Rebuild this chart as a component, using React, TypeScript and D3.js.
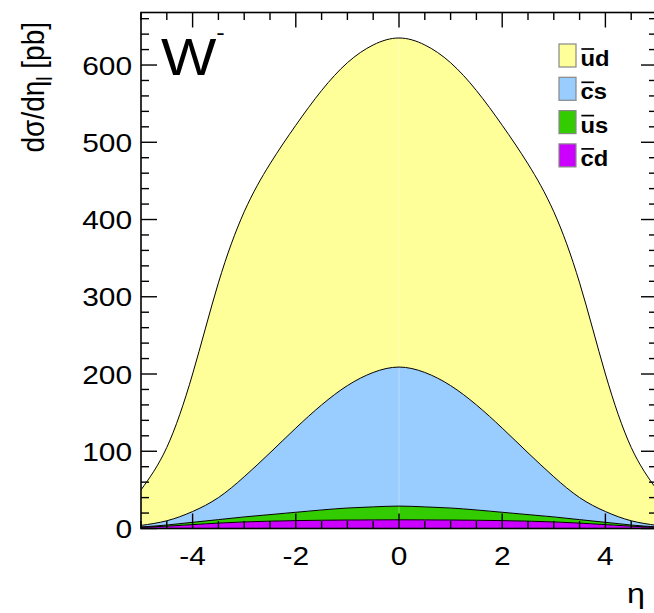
import React from "react";
import * as d3 from "d3";

const eta = [-5, -4.5, -4, -3.5, -3, -2.5, -2, -1.5, -1, -0.5, 0, 0.5, 1, 1.5, 2, 2.5, 3, 3.5, 4, 4.5, 5];
const ud = [46, 95, 178, 278, 343, 374, 392, 407, 418, 424, 426, 424, 418, 407, 392, 374, 343, 278, 178, 95, 46];
const cs = [2, 5.5, 14, 28.5, 52, 80, 109, 136, 158.5, 174, 180, 174, 158.5, 136, 109, 80, 52, 28.5, 14, 5.5, 2];
const us = [0.5, 1.5, 3, 4.5, 6.5, 8.5, 10.8, 13.3, 15.5, 16.8, 17.7, 16.8, 15.5, 13.3, 10.8, 8.5, 6.5, 4.5, 3, 1.5, 0.5];
const cd = [1.5, 3, 5, 7, 8.5, 9.5, 10.2, 10.7, 11, 11.2, 11.3, 11.2, 11, 10.7, 10.2, 9.5, 8.5, 7, 5, 3, 1.5];

const keys = ["cd", "us", "cs", "ud"];
const colors: Record<string, string> = { ud: "#ffff99", cs: "#99ccff", us: "#33cc00", cd: "#cc00ff" };
const legendKeys = ["ud", "cs", "us", "cd"];
const legendBar: Record<string, string> = { ud: "u", cs: "c", us: "u", cd: "c" };
const legendRest: Record<string, string> = { ud: "d", cs: "s", us: "s", cd: "d" };

const xTicks = [-4, -2, 0, 2, 4];
const yTicks = [0, 100, 200, 300, 400, 500, 600];

const W = 654, H = 613;
const L = 141, R = 657, T = 12.5, B = 528.5;
const FONT = "'Liberation Sans', Arial, Helvetica, sans-serif";
const SX = 1.15;

export default function App() {
  const x = d3.scaleLinear().domain([-5, 5]).range([L, R]);
  const y = d3.scaleLinear().domain([0, 668]).range([B, T]);
  const rows = eta.map((e, i) => ({ eta: e, ud: ud[i], cs: cs[i], us: us[i], cd: cd[i] }));
  const series = d3.stack<any>().keys(keys)(rows);
  const area = d3.area<any>()
    .x((d) => x(d.data.eta))
    .y0((d) => y(d[0]))
    .y1((d) => y(d[1]))
    .curve(d3.curveNatural);
  const line = d3.line<any>()
    .x((d) => x(d.data.eta))
    .y((d) => y(d[1]))
    .curve(d3.curveNatural);

  const xMinor = d3.range(-5, 5.001, 0.5);
  const yMinor = d3.range(0, 668, 20);

  return (
    <svg width={W} height={H} style={{ position: "absolute", left: 0, top: 0, background: "#fff" }}>
      <defs>
        <clipPath id="plot"><rect x={L} y={T} width={R - L} height={B - T} /></clipPath>
      </defs>
      <g clipPath="url(#plot)">
        {series.map((s) => (
          <path key={s.key} d={area(s) || ""} fill={colors[s.key]} stroke="none" />
        ))}
        <line x1={x(0)} x2={x(0)} y1={y(0)} y2={y(636)} stroke="#fff" strokeOpacity={0.35} strokeWidth={1} />
        {series.map((s) => (
          <path key={"l" + s.key} d={line(s) || ""} fill="none" stroke="#000" strokeWidth={1} />
        ))}
      </g>
      <g stroke="#000" strokeWidth={1.4}>
        {xMinor.map((v) => {
          const major = Math.abs(v % 2) < 1e-9;
          const len = major ? 15 : 7.5;
          return (
            <g key={"xt" + v}>
              <line x1={x(v)} x2={x(v)} y1={B} y2={B - len} />
              <line x1={x(v)} x2={x(v)} y1={T} y2={T + len} />
            </g>
          );
        })}
        {yMinor.map((v) => {
          const major = v % 100 === 0;
          const len = major ? 16 : 8;
          return (
            <g key={"yt" + v}>
              <line x1={L} x2={L + len} y1={y(v)} y2={y(v)} />
              <line x1={R} x2={R - len} y1={y(v)} y2={y(v)} />
            </g>
          );
        })}
      </g>
      <rect x={L} y={T} width={R - L} height={B - T} fill="none" stroke="#000" strokeWidth={1.6} />
      {xTicks.map((v) => (
        <g key={"xl" + v} transform={`translate(${x(v)},${565}) scale(${SX},1)`}>
          <text textAnchor="middle" fontFamily={FONT} fontSize={26} fill="#000">{v}</text>
        </g>
      ))}
      {yTicks.map((v) => (
        <g key={"yl" + v} transform={`translate(${132},${y(v) + 9.5}) scale(${SX},1)`}>
          <text textAnchor="end" fontFamily={FONT} fontSize={26} fill="#000">{v}</text>
        </g>
      ))}
      <g transform={`translate(44,22) scale(${SX},1) rotate(-90)`}>
        <text textAnchor="end" fontFamily={FONT} fontSize={28} fill="#000">
          dσ/dη<tspan fontSize={19} dy={7}>l</tspan><tspan dy={-7}> [pb]</tspan>
        </text>
      </g>
      <g transform={`translate(645,603) scale(${SX},1)`}>
        <text textAnchor="end" fontFamily={FONT} fontSize={28} fill="#000">η</text>
      </g>
      <g transform={`translate(161,75) scale(${SX},1)`}>
        <text fontFamily={FONT} fontSize={51} fill="#000">
          W<tspan fontSize={22} dy={-35}>-</tspan>
        </text>
      </g>
      {legendKeys.map((k, i) => {
        const top = 44 + i * 33.3;
        return (
          <g key={"lg" + k}>
            <rect x={559} y={top} width={17} height={23} fill={colors[k]} stroke="#888" strokeWidth={1.2} />
            <g transform={`translate(580.5,${top + 22}) scale(1.08,1)`}>
              <text fontFamily={FONT} fontSize={22} fontWeight="bold" fill="#000">
                {legendBar[k]}{legendRest[k]}
              </text>
              <line x1={0.8} x2={12.6} y1={-17} y2={-17} stroke="#000" strokeWidth={1.7} />
            </g>
          </g>
        );
      })}
    </svg>
  );
}
